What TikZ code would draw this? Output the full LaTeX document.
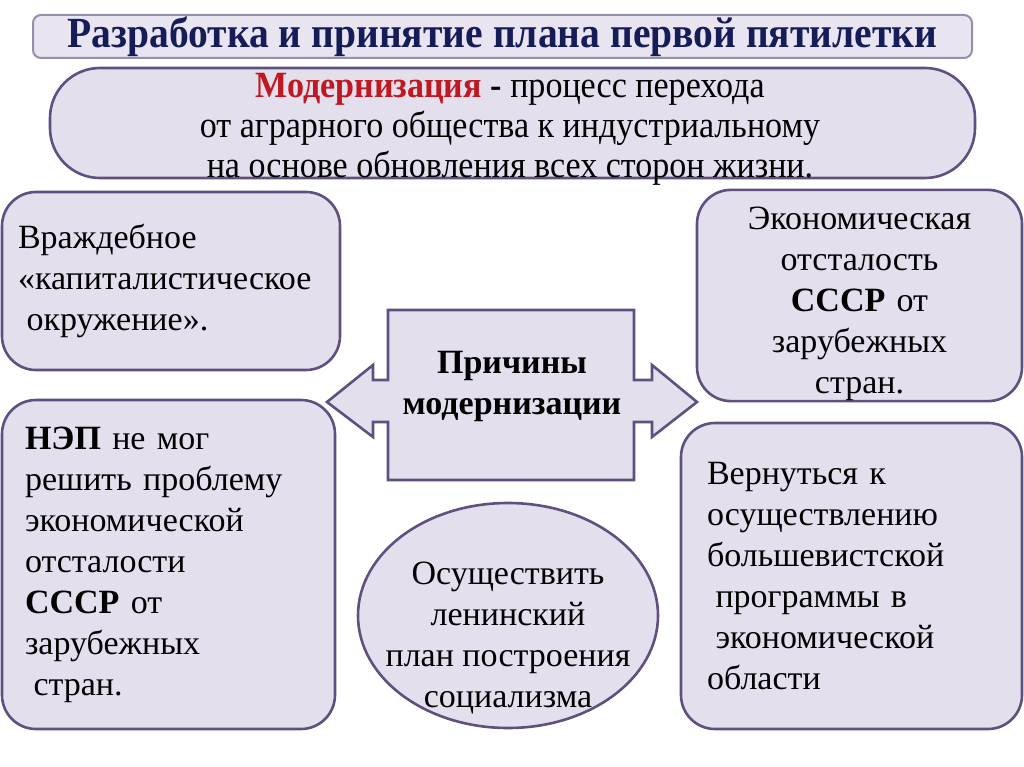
\documentclass[tikz,border=0pt]{standalone}
\usepackage{fontspec}
\setmainfont{Liberation Serif}
\newfontfamily\narrowserif[FakeStretch=0.92]{Liberation Serif}
\usetikzlibrary{shapes.geometric}
\definecolor{lilacfill}{RGB}{228,223,236}
\definecolor{lilacline}{RGB}{95,80,128}
\definecolor{titlefill}{RGB}{232,229,240}
\definecolor{titleline}{RGB}{150,142,172}
\definecolor{navytext}{RGB}{22,28,88}
\definecolor{modred}{RGB}{192,24,32}
\tikzset{
lilacbox/.style={rectangle, rounded corners=34pt, draw=lilacline, fill=lilacfill, line width=2.6pt, inner ysep=0pt},
lilacshape/.style={draw=lilacline, fill=lilacfill, line width=2.6pt},
bodytext/.style={font=\fontsize{34}{41}\selectfont},
titlebox/.style={rectangle, rounded corners=8pt, draw=titleline, fill=titlefill, line width=2pt, inner sep=0pt}
}

\begin{document}
\begin{tikzpicture}[x=1pt, y=-1pt]
\path[fill=white] (0,0) rectangle (1024,767);
\useasboundingbox (0,0) rectangle (1024,767);
%Title
\node (title) [titlebox, minimum width=939pt, minimum height=43pt, text=navytext,
  font=\narrowserif\bfseries\fontsize{43}{43}\selectfont] at (502.5,36.5)
  {Разработка и принятие плана первой пятилетки};

%Definition
\node (modern) [lilacbox, rounded corners=50pt, minimum width=925pt, minimum height=110pt] at (512.5,123) {};
\node (modernText) [align=center, font=\narrowserif\fontsize{37}{40}\selectfont] at (510,129)
  {{\color{modred}\bfseries Модернизация} \textbf{-} процесс перехода\\
   от аграрного общества к индустриальному\\
   на основе обновления всех сторон жизни.};

%Centre
\draw[lilacshape] (388,310) -- (634,310) -- (634,380) -- (652,380) -- (652,365) -- (697,402)
  -- (652,437) -- (652,422) -- (634,422) -- (634,480) -- (388,480) -- (388,422)
  -- (373,422) -- (373,437) -- (327,402) -- (373,365) -- (373,380) -- (388,380) -- cycle;
\node (reasons) [align=center, font=\bfseries\fontsize{34}{41}\selectfont] at (512,386) {Причины\\модернизации};

%Reasons
\node (hostile) [lilacbox, inner xsep=16pt, text width=306pt, minimum height=178pt, align=left, bodytext] at (171,281)
  {Враждебное\\«капиталистическое\\\hspace{0.25em}окружение».};
\node (nep) [lilacbox, inner xsep=23pt, text width=287pt, minimum height=329pt, align=left, bodytext] at (168.5,564.5)
  {\textbf{НЭП} не мог\\решить проблему\\экономической\\отсталости\\\textbf{СССР} от\\зарубежных\\\hspace{0.25em}стран.};
\node (lag) [lilacbox, inner xsep=10pt, text width=305pt, minimum height=209pt, align=center, bodytext] at (859.5,295.5)
  {\rule{0pt}{40pt}Экономическая\\отсталость\\\textbf{СССР} от\\зарубежных\\стран.};
\node (return) [lilacbox, inner xsep=26pt, text width=289pt, minimum height=306pt, align=left, bodytext] at (851.5,576)
  {Вернуться к\\осуществлению\\большевистской\\\hspace{0.25em}программы в\\\hspace{0.25em}экономической\\области};
\node (plan) [ellipse, lilacshape, minimum width=300pt, minimum height=225pt, inner sep=0pt] at (508,615.5) {};
\node (planText) [bodytext, align=center] at ([yshift=-23pt]plan.center)
  {Осуществить\\ленинский\\план построения\\социализма};
\end{tikzpicture}
\end{document}
